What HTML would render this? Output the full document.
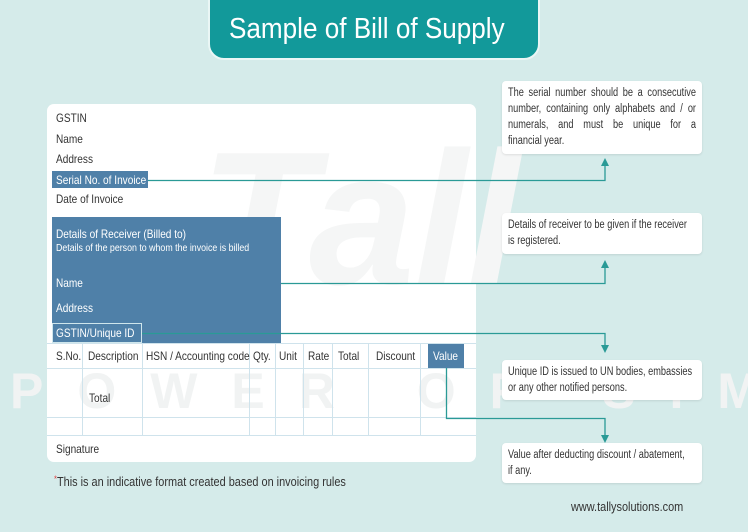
<!DOCTYPE html>
<html><head><meta charset="utf-8"><style>
*{margin:0;padding:0;box-sizing:border-box}
body{width:748px;height:532px;background:#d5ebea;position:relative;overflow:hidden;font-family:"Liberation Sans",sans-serif;color:#333}
.a{position:absolute;white-space:nowrap}
.t{font-size:12px;transform:scaleX(.84);transform-origin:0 0}
.w{color:#fff}
.note{position:absolute;background:#fff;border-radius:4px;left:502px;width:200px;padding:4px 6px;color:#333;box-shadow:0 1px 2px rgba(0,0,0,.1)}
.note div{font-size:11.5px;line-height:16px;white-space:nowrap;transform:scaleX(.8);transform-origin:0 0;width:235px}
.j{text-align:justify;text-align-last:justify}
</style></head><body>
<div class="a" style="left:208px;top:-20px;width:332px;height:80px;background:#12999a;border:2px solid #eaf6f5;border-radius:16px"></div>
<div class="a w" style="left:229px;top:13px;font-size:29px;transform:scaleX(.9);transform-origin:0 0">Sample of Bill of Supply</div>

<div class="a" style="left:47px;top:104px;width:429px;height:358px;background:#fff;border-radius:7px"></div>
<div class="a" style="left:0;top:0;width:748px;height:532px;overflow:hidden">
<div class="a" style="left:200px;top:110px;font-size:190px;font-style:italic;font-weight:bold;color:#f5f6f6">Tall</div>
<div class="a" style="left:10px;top:362px;font-size:50px;letter-spacing:34px;color:#f1f3f3;font-weight:bold">POWER OF SIMPL</div>
</div>

<div class="a t" style="left:56px;top:111px">GSTIN</div>
<div class="a t" style="left:56px;top:132px">Name</div>
<div class="a t" style="left:56px;top:152px">Address</div>
<div class="a" style="left:52px;top:171px;width:96px;height:17px;background:#4f80a8"></div>
<div class="a t w" style="left:56px;top:173px">Serial No. of Invoice</div>
<div class="a t" style="left:56px;top:192px">Date of Invoice</div>

<div class="a" style="left:52px;top:217px;width:229px;height:126px;background:#4f80a8"></div>
<div class="a t w" style="left:56px;top:227px">Details of Receiver (Billed to)</div>
<div class="a w" style="left:56px;top:242px;font-size:10.5px;transform:scaleX(.84);transform-origin:0 0">Details of the person to whom the invoice is billed</div>
<div class="a t w" style="left:56px;top:276px">Name</div>
<div class="a t w" style="left:56px;top:301px">Address</div>
<div class="a" style="left:52px;top:323px;width:90px;height:20px;border:1.5px solid #cfe6ec;background:#4f80a8"></div>
<div class="a t w" style="left:56px;top:326px">GSTIN/Unique ID</div>
<div class="a" style="left:428px;top:344px;width:36px;height:24px;background:#4f80a8"></div>

<svg class="a" style="left:0;top:0" width="748" height="532">
<g stroke="#cfe3ec" stroke-width="1" fill="none">
<line x1="47" y1="343.5" x2="476" y2="343.5"/><line x1="47" y1="368.5" x2="476" y2="368.5"/>
<line x1="47" y1="417.5" x2="476" y2="417.5"/><line x1="47" y1="435.5" x2="476" y2="435.5"/>
<line x1="82.5" y1="343" x2="82.5" y2="435"/><line x1="142.5" y1="343" x2="142.5" y2="435"/>
<line x1="249.5" y1="343" x2="249.5" y2="435"/><line x1="275.5" y1="343" x2="275.5" y2="435"/>
<line x1="303.5" y1="343" x2="303.5" y2="435"/><line x1="332.5" y1="343" x2="332.5" y2="435"/>
<line x1="368.5" y1="343" x2="368.5" y2="435"/><line x1="420.5" y1="343" x2="420.5" y2="435"/>
</g>
<g stroke="#2a9a96" stroke-width="1.3" fill="none">
<polyline points="148,180.5 605,180.5 605,163"/>
<polyline points="281,283.5 605,283.5 605,265"/>
<polyline points="142,333.5 605,333.5 605,347"/>
<polyline points="446.5,368 446.5,418.5 605,418.5 605,437"/>
</g>
<g fill="#2a9a96">
<polygon points="601,166 609,166 605,158"/>
<polygon points="601,268 609,268 605,260"/>
<polygon points="601,345 609,345 605,353"/>
<polygon points="601,435 609,435 605,443"/>
</g>
</svg>

<div class="a t" style="left:56px;top:349px">S.No.</div>
<div class="a t" style="left:88px;top:349px">Description</div>
<div class="a t" style="left:146px;top:349px">HSN / Accounting code</div>
<div class="a t" style="left:253px;top:349px">Qty.</div>
<div class="a t" style="left:279px;top:349px">Unit</div>
<div class="a t" style="left:308px;top:349px">Rate</div>
<div class="a t" style="left:338px;top:349px">Total</div>
<div class="a t" style="left:376px;top:349px">Discount</div>
<div class="a t w" style="left:433px;top:349px">Value</div>
<div class="a t" style="left:89px;top:391px">Total</div>
<div class="a t" style="left:56px;top:442px">Signature</div>

<div class="a t" style="left:54px;top:474px;font-size:13px"><span style="color:#e04040;font-size:9px;vertical-align:top">*</span>This is an indicative format created based on invoicing rules</div>
<div class="a t" style="left:571px;top:499px;font-size:13px">www.tallysolutions.com</div>

<div class="note" style="top:81px;height:73px">
<div class="j">The serial number should be a consecutive</div>
<div class="j">number, containing only alphabets and / or</div>
<div class="j">numerals, and must be unique for a</div>
<div>financial year.</div></div>
<div class="note" style="top:213px;height:41px"><div>Details of receiver to be given if the receiver</div><div>is registered.</div></div>
<div class="note" style="top:360px;height:40px"><div>Unique ID is issued to UN bodies, embassies</div><div>or any other notified persons.</div></div>
<div class="note" style="top:443px;height:40px"><div>Value after deducting discount / abatement,</div><div>if any.</div></div>
</body></html>
